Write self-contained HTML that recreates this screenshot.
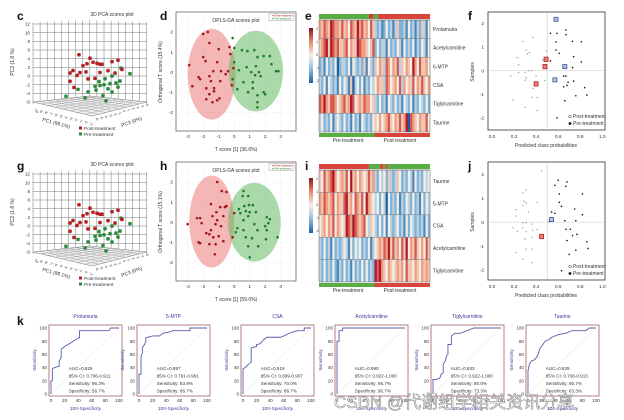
<!DOCTYPE html>
<html><head><meta charset="utf-8"><style>
html,body{margin:0;padding:0;background:#fff;}
svg{display:block;font-family:"Liberation Sans",Arial,sans-serif;}
.wm{font-family:"Liberation Sans","Noto Sans CJK SC",sans-serif;}
</style></head><body>
<svg id="fig" width="624" height="420" viewBox="0 0 624 420" xmlns="http://www.w3.org/2000/svg">
<rect width="624" height="420" fill="#fff"/>
</svg>
<script>
// ---------- DATA ----------
const pca3dRed = [[-4.4,4.8,0],[0,4.1,0],[2.8,3.0,0],[1.2,3.2,0],[-1.2,2.8,0],[4,2.8,0],[8.8,3.5,0],[11.2,3.9,0],[-6.8,1.1,0],[-4,0.7,0],[-1.6,0.9,0],[-5.2,0,0],[-8,0.5,0],[4,0.9,0],[7.2,1.4,0],[12.8,1.8,0],[-0.8,-0.7,0],[2,-0.5,0],[-6.4,-2.8,0],[-8,-1.4,0],[4.8,2.8,0],[10,0.9,0],[-2.8,2.3,0]];
const pca3dGreen = [[12.4,2.1,0],[16,0.9,0],[8.8,0.2,0],[6,-0.5,0],[3.6,-1.2,0],[8,-1.6,0],[10.4,-1.4,0],[11.2,-2.3,0],[7.2,-2.8,0],[4,-2.1,0],[2,-2.3,0],[-0.8,-3.7,0],[-2,-5.1,0],[5.2,-4.4,0],[6.4,-5.6,0],[-9.6,-4.9,0],[-4.8,-3.2,0],[8.8,-3.5,0],[2.4,-3.2,0],[5.6,-1.9,0],[12,-0.9,0]];
const pca3dTicks = [12,10,8,6,4,2,0,-2,-4,-6];

const dRed = [[-2.0,1.9],[-1.7,2.0],[-1.6,1.45],[-1.0,1.15],[-0.3,1.25],[-2.0,0.75],[-1.1,0.5],[-2.9,0.35],[-1.35,0.05],[-0.85,0.05],[-0.4,0.05],[-0.25,0.9],[-2.3,-0.25],[-2.2,-0.35],[-1.6,-0.2],[-1.5,-0.45],[-0.9,-0.45],[-1.8,-0.8],[-1.3,-0.8],[-2.7,-0.7],[-1.3,-0.95],[-1.6,-1.1],[-1.1,-1.4],[-0.95,-1.3],[-1.8,-1.35],[-1.4,-1.5],[-0.15,-0.65],[-0.55,-0.1],[-0.05,0.2],[-1.85,0.55]];
const dGreen = [[-0.1,1.7],[0.0,1.2],[0.5,1.1],[0.85,1.05],[1.3,1.1],[1.9,0.8],[2.3,0.8],[2.4,0.4],[1.5,0.75],[1.4,0.3],[0.8,0.25],[1.1,0.0],[1.6,0.0],[2.7,0.05],[2.85,0.05],[1.35,-0.15],[1.7,-0.2],[0.3,0.1],[0.6,-0.5],[1.2,-0.5],[1.2,-0.8],[0.2,-0.85],[1.9,-1.0],[2.0,-1.1],[1.5,-1.15],[1.5,-1.5],[1.5,-1.75],[0.9,-1.0],[-0.1,-0.35],[0.0,0.5]];
const dEllipses = [[-1.45,-0.1,1.55,2.25],[1.4,0.05,1.75,2.0]];
const hRed = [[-1.1,2.0],[-0.8,1.55],[-0.5,1.5],[-1.5,0.9],[-0.9,0.75],[-0.6,0.75],[-1.15,0.5],[-2.2,0.2],[-2.4,0.2],[-1.4,0.3],[-0.7,0.3],[-1.1,0.1],[-3.0,-0.1],[-2.1,-0.05],[-1.2,-0.1],[-0.85,-0.2],[-1.5,-0.4],[-1.8,-0.55],[-1.6,-0.6],[-1.35,-0.75],[-1.0,-0.7],[-2.3,-1.0],[-2.2,-1.05],[-1.6,-1.1],[-1.2,-1.1],[-0.7,-0.95],[-1.25,-1.6],[0.0,0.45],[-0.1,-0.75],[-0.5,0.8]];
const hGreen = [[0.6,1.55],[0.9,1.3],[0.55,1.3],[0.95,0.85],[0.65,0.8],[1.2,0.85],[0.3,0.65],[0.75,0.55],[1.0,0.5],[0.4,0.45],[0.9,0.3],[0.6,0.1],[2.1,0.25],[2.3,0.15],[1.3,-0.1],[2.2,-0.05],[2.0,-0.2],[0.2,-0.3],[1.5,-0.4],[2.1,-0.4],[0.75,-0.75],[1.15,-0.8],[2.05,-0.85],[2.8,-0.75],[0.9,-1.2],[1.55,-1.2],[1.0,-1.75],[0.6,-0.4],[0.1,-0.5],[1.4,0.5]];
const hEllipses = [[-1.45,0.03,1.45,2.28],[1.3,0.0,1.7,1.95]];
const oplsXTicks = [-3,-2,-1,0,1,2,3];
const oplsYTicks = [2,1,0,-1,-2];

const eRows = ["Prolamuria","Acetylcarnitine","6-MTP","CSA","Tiglylcarnitine","Taurine"];
const eValues = [
 "65765876657564765867564753231242313522314231325314",
 "56785876755674655876654572423314232431423241324314",
 "23142324023324143232514325465376465735465486475564",
 "32414323142431503424132434655376456473645574657546",
 "76865776456756874565766453242314324231432413243242",
 "34232413432423142314323245464567546575680765465574"];
const iRows = ["Taurine","5-MTP","CSA","Acetylcarnitine","Tiglylcarnitine"];
const iValues = [
 "54756786456574856465457563243425323542324314232434",
 "65765674655785647657486543424304232413243242314243",
 "45646574654587687656743543242414323423142432323142",
 "32423142323431424342324134565768575647584657546475",
 "32423242132423142324242328786546545656475546546565"];
const cbTicks = [2,1,0,-1,-2];

const fGray = [[.37,1.4],[.28,1.23],[.31,.87],[.34,.76],[.23,.55],[.32,.7],[.49,.83],[.24,.25],[.33,0],[.36,0],[.30,-.07],[.24,-.08],[.17,-.23],[.31,-.3],[.40,-.23],[.48,-.42],[.37,-.75],[.36,-1.13],[.41,-1.13],[.19,-1.24],[.30,-1.55],[.41,-1.69],[.30,-.4],[.46,.45]];
const fBlack = [[.59,1.58],[.53,1.58],[.67,1.72],[.67,1.52],[.58,1.21],[.73,1.24],[.81,1.22],[.58,.87],[.61,.73],[.74,.59],[.81,.37],[.53,.41],[.73,.13],[.65,-.23],[.67,-.23],[.74,-.44],[.69,-.49],[.65,-.68],[.84,-.72],[.86,-1.03],[.76,-1.06],[.66,-1.27],[.59,-1.99],[.68,-.62]];
const fRedSq = [[.49,.48],[.48,.17],[.40,-.56]];
const fBlueSq = [[.58,2.17],[.66,.17],[.57,-.39]];
const jGray = [[.45,2.14],[.28,1.22],[.31,1.35],[.29,.87],[.31,.8],[.28,.7],[.41,.82],[.22,.52],[.33,.42],[.22,.25],[.31,-.03],[.28,-.03],[.36,-.08],[.19,-.24],[.28,-.24],[.37,-.34],[.41,-.31],[.23,-.38],[.31,-.4],[.36,-.64],[.30,-.71],[.31,-1.13],[.36,-1.13],[.22,-1.27],[.28,-1.55],[.36,-1.69]];
const jBlack = [[.6,1.75],[.57,1.54],[.67,1.5],[.68,1.68],[.61,1.18],[.82,1.18],[.61,.83],[.63,.66],[.75,.55],[.82,.31],[.54,.42],[.57,.37],[.52,.03],[.76,.06],[.66,.06],[.67,-.3],[.71,-.3],[.73,-.56],[.77,-.51],[.68,-.77],[.86,-.82],[.87,-1.1],[.76,-1.17],[.70,-1.35],[.63,-2.03]];
const jRedSq = [[.45,-.6]];
const jBlueSq = [[.54,.11]];
const probXTicks = [0.0,0.2,0.4,0.6,0.8,1.0];
const probYTicks = [2,1,0,-1,-2];

const rocTitles = ["Prolamuria","5-MTP","CSA","Acetylcarnitine","Tiglylcarnitine","Taurine"];
const rocAUC = ["0.825","0.897","0.819","0.990","0.833","0.829"];
const rocCI = ["0.706-0.911","0.791-0.961","0.699-0.907","0.922-1.000","0.922-1.000","0.708-0.913"];
const rocSens = ["96.3%","83.8%","70.0%","96.7%","90.0%","86.7%"];
const rocSpec = ["56.7%","86.7%","86.7%","96.7%","73.3%","63.3%"];
const rocCurves = [
 [[0,0],[0,20],[2,20],[2,38],[5,40],[12,42],[12,50],[15,55],[15,68],[20,72],[30,78],[40,85],[42,85],[42,96],[85,96],[88,100],[100,100]],
 [[0,0],[0,30],[3,30],[3,58],[5,62],[5,70],[8,75],[10,80],[10,85],[20,88],[30,88],[35,92],[45,94],[50,96],[75,96],[75,100],[100,100]],
 [[0,0],[0,38],[3,40],[8,45],[12,48],[12,70],[20,72],[20,75],[25,76],[30,82],[35,86],[55,86],[60,88],[70,93],[80,96],[90,96],[90,100],[100,100]],
 [[0,0],[0,80],[3,80],[3,96],[8,96],[8,100],[100,100]],
 [[0,0],[0,22],[5,22],[10,24],[12,30],[15,32],[15,45],[18,50],[20,58],[22,60],[22,75],[27,75],[27,88],[32,92],[40,92],[50,96],[60,100],[100,100]],
 [[0,0],[0,35],[2,45],[5,50],[10,52],[12,55],[15,60],[18,70],[22,75],[25,80],[30,82],[35,86],[45,90],[55,92],[65,96],[85,96],[90,100],[100,100]]];
const rocTicks = [0,20,40,60,80,100];

// ---------- HELPERS ----------
const NS = "http://www.w3.org/2000/svg";
const svg = document.getElementById("fig");
function mk(parent, tag, attrs, name) {
  const el = document.createElementNS(NS, tag);
  for (const k in attrs) el.setAttribute(k, attrs[k]);
  
  
  parent.appendChild(el);
  return el;
}
function txt(parent, x, y, s, size, name, extra) {
  const a = Object.assign({x:x, y:y, "font-size":size, fill:"#333"}, extra||{});
  const t = mk(parent, "text", a, name);
  t.textContent = s;
  return t;
}
function group(name){ return mk(svg, "g", {}, name); }
function lin(d0,d1,r0,r1){ return v => r0 + (v-d0)/(d1-d0)*(r1-r0); }

function panelLetter(s, x, y){
  txt(svg, x, y, s, 12, "panel-label-"+s, {"font-weight":"bold", fill:"#111"});
}

// ---------- 3D PCA ----------
function pca3d(oy, letter){
  const g = group("pca-3d-plot-"+letter);
  const Y = lin(12, -6, 24+oy, 102+oy);
  const px = p => 90 + p[0]*2.5 - p[2]*2.5;
  const py = p => Y(p[1]) + (p[0]+p[2])*0.1;
  txt(g, 112, 16+oy, "3D PCA scores plot", 5, "chart-title", {"text-anchor":"middle"});
  for (let i=0;i<=16;i++){ const x=33+i*7.1;
    mk(g,"line",{x1:x,y1:20+oy+Math.abs(i-8)*0.3,x2:x,y2:100+oy+Math.abs(i-8)*0.5,stroke:"#777","stroke-width":0.5},"wall-gridline"); }
  pca3dTicks.forEach(v=>{
    mk(g,"line",{x1:33,y1:Y(v),x2:147,y2:Y(v),stroke:"#777","stroke-width":0.5},"wall-gridline");
    txt(g, 30, Y(v)+1.7, String(v), 4.6, "y-tick-label", {"text-anchor":"end"});
  });
  // floor
  mk(g,"polygon",{points:`33,${102+oy} 90,${96+oy} 147,${102+oy} 92,${116+oy}`,fill:"#eee",stroke:"#777","stroke-width":0.5},"floor-plane");
  for (let i=1;i<8;i++){ const t=i/8;
    mk(g,"line",{x1:33+57*t,y1:102+oy-6*t,x2:92+55*t,y2:116+oy-14*t,stroke:"#999","stroke-width":0.4},"floor-gridline");
    mk(g,"line",{x1:90+57*t,y1:96+oy+6*t,x2:33+59*t,y2:102+oy+14*t,stroke:"#999","stroke-width":0.4},"floor-gridline");
  }
  for (let i=0;i<12;i++){
    txt(g, 34+i*5, 109+oy+i*1.2, "-"+(10-i), 3.6, "pc1-tick-label", {transform:`rotate(60 ${34+i*5} ${109+oy+i*1.2})`});
    txt(g, 95+i*4.6, 118+oy-i*1.2, String(i-6), 3.6, "pc3-tick-label", {transform:`rotate(60 ${95+i*4.6} ${118+oy-i*1.2})`});
  }
  txt(g, 14, 62+oy, "PC2 (1.8 %)", 5, "y-axis-title", {transform:`rotate(-90 14 ${62+oy})`,"text-anchor":"middle"});
  txt(g, 42, 121+oy, "PC1 (88.1%)", 5, "pc1-axis-title", {transform:`rotate(15 42 ${121+oy})`});
  txt(g, 122, 127+oy, "PC3 (0%)", 5, "pc3-axis-title", {transform:`rotate(-20 122 ${127+oy})`});
  pca3dGreen.forEach(p=> mk(g,"rect",{x:px(p)-1.8,y:py(p)-1.8,width:3.6,height:3.6,rx:1.2,fill:"#2e8b3e"},"point-pre-treatment"));
  pca3dRed.forEach(p=> mk(g,"rect",{x:px(p)-1.8,y:py(p)-1.8,width:3.6,height:3.6,rx:1.2,fill:"#b22222"},"point-post-treatment"));
  mk(g,"rect",{x:79,y:126.5+oy,width:3,height:3,fill:"#b22222"},"legend-marker-post");
  txt(g, 84, 130+oy, "Post-treatment", 4.8, "legend-entry-post");
  mk(g,"rect",{x:79,y:132.5+oy,width:3,height:3,fill:"#2e8b3e"},"legend-marker-pre");
  txt(g, 84, 136+oy, "Pre-treatment", 4.8, "legend-entry-pre");
}

// ---------- OPLS-DA ----------
function opls(oy, letter, red, green, ells, xlab, ylab){
  const g = group("opls-da-plot-"+letter);
  const X = lin(-3, 3, 187.7, 280.7), Y = lin(2, -2, 32+oy, 112.3+oy);
  mk(g,"rect",{x:176,y:12+oy,width:120,height:119,fill:"#fff",stroke:"#555","stroke-width":0.7},"plot-frame");
  oplsXTicks.forEach(v=>{
    mk(g,"line",{x1:X(v),y1:12+oy,x2:X(v),y2:131+oy,stroke:"#ddd","stroke-width":0.4,"stroke-dasharray":"1.5,1.5"},"x-gridline");
    txt(g, X(v), 138+oy, String(v), 4.8, "x-tick-label", {"text-anchor":"middle"});
  });
  oplsYTicks.forEach(v=>{
    mk(g,"line",{x1:176,y1:Y(v),x2:296,y2:Y(v),stroke:"#ddd","stroke-width":0.4,"stroke-dasharray":"1.5,1.5"},"y-gridline");
    txt(g, 173, Y(v)+1.7, String(v), 4.8, "y-tick-label", {"text-anchor":"end"});
  });
  const cols=["rgba(235,110,110,0.5)","rgba(100,185,100,0.55)"];
  ells.forEach((e,i)=> mk(g,"ellipse",{cx:X(e[0]),cy:Y(e[1]),rx:e[2]*15.5,ry:e[3]*20.2,fill:cols[i]},i?"ellipse-pre-treatment":"ellipse-post-treatment"));
  red.forEach(p=> mk(g,"circle",{cx:X(p[0]),cy:Y(p[1]),r:1.3,fill:"#a3161c"},"point-post-treatment"));
  green.forEach(p=> mk(g,"circle",{cx:X(p[0]),cy:Y(p[1]),r:1.3,fill:"#237a2f"},"point-pre-treatment"));
  txt(g, 236, 22+oy, "OPLS-DA scores plot", 5, "chart-title", {"text-anchor":"middle"});
  mk(g,"rect",{x:269,y:13.5+oy,width:25,height:7,fill:"#fff",stroke:"#888","stroke-width":0.4},"legend-box");
  txt(g, 272, 16.5+oy, "● Post-treatment", 2.8, "legend-entry-post", {fill:"#a3161c"});
  txt(g, 272, 19.5+oy, "● Pre-treatment", 2.8, "legend-entry-pre", {fill:"#237a2f"});
  txt(g, 236, 151+oy, xlab, 5, "x-axis-title", {"text-anchor":"middle"});
  txt(g, 162, 72+oy, ylab, 5, "y-axis-title", {transform:`rotate(-90 162 ${72+oy})`,"text-anchor":"middle"});
}

// ---------- HEATMAP ----------
function hcolor(d){
  const t=(d-4)/4;
  const stops=[[-1,[31,95,160]],[-0.5,[127,179,216]],[0,[242,239,233]],[0.5,[240,156,125]],[1,[178,24,43]]];
  for(let i=0;i<4;i++){ const a=stops[i],b=stops[i+1];
    if(t<=b[0]){ const u=(t-a[0])/(b[0]-a[0]); const c=a[1].map((v,k)=>Math.round(v+(b[1][k]-v)*u)); return `rgb(${c})`; } }
  return "rgb(178,24,43)";
}
function heatmap(oy, letter, rows, vals, topBar, botBar){
  const g = group("heatmap-"+letter);
  const x0=319, x1=430, y0=20+oy, y1=132+oy, rh=(y1-y0)/rows.length;
  topBar.forEach(s=> mk(g,"rect",{x:x0+s[0]*(x1-x0),y:14+oy,width:(s[1]-s[0])*(x1-x0),height:5,fill:s[2]},"group-annotation-bar-top"));
  vals.forEach((row,r)=>{
    const cw=(x1-x0)/row.length;
    for(let c=0;c<row.length;c++)
      mk(g,"rect",{x:x0+c*cw,y:y0+r*rh,width:cw+0.3,height:rh,fill:hcolor(+row[c])},"heatmap-cell");
    mk(g,"line",{x1:x0,y1:y0+r*rh,x2:x1,y2:y0+r*rh,stroke:"#777","stroke-width":0.5},"row-separator");
    txt(g, 433, y0+(r+0.5)*rh+1.7, rows[r], 5, "row-label");
  });
  mk(g,"rect",{x:x0,y:y0,width:x1-x0,height:y1-y0,fill:"none",stroke:"#666","stroke-width":0.5},"heatmap-frame");
  botBar.forEach(s=> mk(g,"rect",{x:x0+s[0]*(x1-x0),y:y1+1,width:(s[1]-s[0])*(x1-x0),height:4,fill:s[2]},"group-annotation-bar-bottom"));
  txt(g, 348, 142+oy, "Pre-treatment", 5, "group-label-pre", {"text-anchor":"middle"});
  txt(g, 400, 142+oy, "Post-treatment", 5, "group-label-post", {"text-anchor":"middle"});
  // colour bar
  const cb=mk(g,"defs",{},"defs");
  const lg=mk(cb,"linearGradient",{id:"cb"+letter,x1:0,y1:0,x2:0,y2:1},"colorbar-gradient");
  [[0,"#8b1020"],[0.25,"#e58a70"],[0.5,"#f2efe9"],[0.75,"#8fbcdc"],[1,"#1f5fa0"]].forEach(s=> mk(lg,"stop",{offset:s[0],"stop-color":s[1]},"gradient-stop"));
  mk(g,"rect",{x:309,y:28+oy,width:4,height:55,fill:`url(#cb${letter})`},"colorbar");
  cbTicks.forEach((v,i)=> txt(g, 316, 30+oy+i*13, String(v), 3.5, "colorbar-tick-label"));
}

// ---------- PROBABILITY SCATTER ----------
function prob(oy, letter, gray, black, rsq, bsq, y2){
  const g = group("class-probability-plot-"+letter);
  const X = lin(0,1,492,602.3), Y = lin(2,-2,y2[0],y2[1]);
  mk(g,"rect",{x:488,y:12+oy,width:117,height:118,fill:"#fff",stroke:"#333","stroke-width":0.8},"plot-frame");
  mk(g,"line",{x1:X(0.5),y1:12+oy,x2:X(0.5),y2:130+oy,stroke:"#bbb","stroke-width":0.5},"threshold-line");
  mk(g,"line",{x1:488,y1:Y(0),x2:605,y2:Y(0),stroke:"#ccc","stroke-width":0.5},"zero-line");
  probXTicks.forEach(v=> txt(g, X(v), 138+oy, v.toFixed(1), 4.8, "x-tick-label", {"text-anchor":"middle"}));
  probYTicks.forEach(v=> txt(g, 484, Y(v)+1.7, String(v), 4.8, "y-tick-label", {"text-anchor":"end"}));
  gray.forEach(p=> mk(g,"circle",{cx:X(p[0]),cy:Y(p[1]),r:0.7,fill:"#999"},"point-post-treatment"));
  black.forEach(p=> mk(g,"circle",{cx:X(p[0]),cy:Y(p[1]),r:0.8,fill:"#111"},"point-pre-treatment"));
  rsq.forEach(p=> mk(g,"rect",{x:X(p[0])-2,y:Y(p[1])-2.2,width:4,height:4.4,fill:"#e08080",stroke:"#c02020","stroke-width":0.8},"misclassified-marker-post"));
  bsq.forEach(p=> mk(g,"rect",{x:X(p[0])-2,y:Y(p[1])-2,width:4,height:4,fill:"#b8c4e0",stroke:"#3050a0","stroke-width":0.8},"misclassified-marker-pre"));
  mk(g,"circle",{cx:570,cy:116.5+oy,r:1.3,fill:"#fff",stroke:"#333","stroke-width":0.5},"legend-marker-post");
  txt(g, 573, 118+oy, "Post-treatment", 5, "legend-entry-post");
  mk(g,"circle",{cx:570,cy:123.5+oy,r:1.4,fill:"#111"},"legend-marker-pre");
  txt(g, 573, 125+oy, "Pre-treatment", 5, "legend-entry-pre");
  txt(g, 546, 147+oy, "Predicted class probabilities", 5, "x-axis-title", {"text-anchor":"middle"});
  txt(g, 474, 72+oy, "Samples", 5, "y-axis-title", {transform:`rotate(-90 474 ${72+oy})`,"text-anchor":"middle"});
}

// ---------- ROC ----------
function roc(i){
  const g = group("roc-curve-"+rocTitles[i].toLowerCase());
  const bx=[49,137,241,335,431,526][i], bw=73;
  const X=lin(0,100,bx+2,bx+bw-3), Y=lin(0,100,394,328);
  txt(g, bx+bw/2, 318, rocTitles[i], 5, "roc-title", {"text-anchor":"middle",fill:"#3a3a9a"});
  mk(g,"line",{x1:X(0),y1:Y(0),x2:X(100),y2:Y(100),stroke:"#ddd","stroke-width":0.5},"reference-diagonal");
  mk(g,"rect",{x:bx,y:325,width:bw,height:71,fill:"none",stroke:"#a06060","stroke-width":0.8},"plot-frame");
  rocTicks.forEach(v=>{
    txt(g, X(v), 402, String(v), 4.6, "x-tick-label", {"text-anchor":"middle"});
    txt(g, bx-2, Y(v)+1.6, String(v), 4.6, "y-tick-label", {"text-anchor":"end"});
  });
  mk(g,"polyline",{points:rocCurves[i].map(p=>X(p[0])+","+Y(p[1])).join(" "),fill:"none",stroke:"#5a5aa8","stroke-width":0.9},"roc-line");
  const tx=bx+bw*0.27;
  txt(g, tx, 370, "AUC=" + rocAUC[i], 4.6, "auc-value");
  txt(g, tx, 377.5, "95% CI: " + rocCI[i], 4.6, "ci-value");
  txt(g, tx, 385, "Sensitivity: " + rocSens[i], 4.6, "sensitivity-value");
  txt(g, tx, 392.5, "Specificity: " + rocSpec[i], 4.6, "specificity-value");
  txt(g, bx+bw/2, 410, "100-Specificity", 4.8, "x-axis-title", {"text-anchor":"middle",fill:"#3a3a9a"});
  txt(g, bx-13, 360, "Sensitivity", 4.8, "y-axis-title", {transform:`rotate(-90 ${bx-13} 360)`,"text-anchor":"middle",fill:"#3a3a9a"});
}

// ---------- BUILD ----------
panelLetter("c",17,20); panelLetter("d",160,20); panelLetter("e",305,20); panelLetter("f",468,20);
panelLetter("g",17,170); panelLetter("h",160,170); panelLetter("i",305,170); panelLetter("j",468,170);
panelLetter("k",17,325);
pca3d(0,"c"); pca3d(150,"g");
opls(0,"d",dRed,dGreen,dEllipses,"T score [1] (36.6%)","Orthogonal T score (15.4%)");
opls(150,"h",hRed,hGreen,hEllipses,"T score [1] (59.0%)","Orthogonal T score (15.1%)");
heatmap(0,"e",eRows,eValues,[[0,0.45,"#5aac44"],[0.45,0.49,"#d04030"],[0.49,0.53,"#5aac44"],[0.53,1,"#d9453a"]],[[0,0.5,"#5aac44"],[0.5,1,"#d9453a"]]);
heatmap(150,"i",iRows,iValues,[[0,0.45,"#d9453a"],[0.45,0.55,"#5aac44"],[0.55,0.58,"#d9453a"],[0.58,0.6,"#5aac44"],[0.6,0.62,"#d9453a"],[0.62,1,"#5aac44"]],[[0,0.5,"#5aac44"],[0.5,1,"#d9453a"]]);
prob(0,"f",fGray,fBlack,fRedSq,fBlueSq,[23.3,118]);
prob(150,"j",jGray,jBlack,jRedSq,jBlueSq,[174.3,270]);
for (let i=0;i<6;i++) roc(i);
const wm = txt(svg, 334, 408, "CSDN @代谢组学相关资讯分享", 17, "watermark", {fill:"rgba(255,255,255,0.6)",stroke:"#888","stroke-width":0.6,class:"wm"});
</script>
</body></html>
